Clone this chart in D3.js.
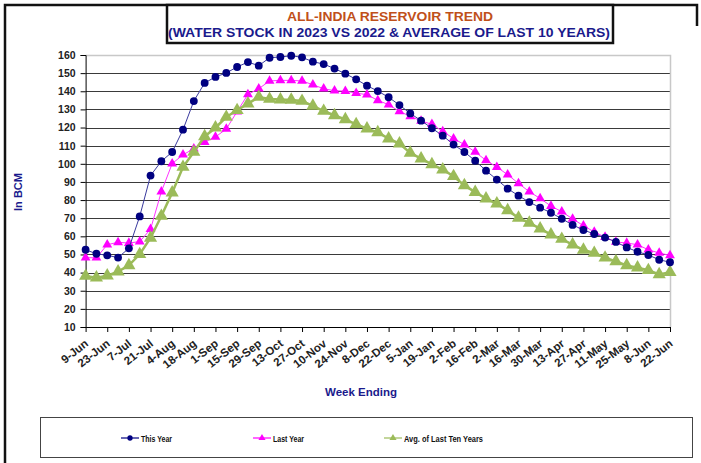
<!DOCTYPE html>
<html>
<head>
<meta charset="utf-8">
<script src="https://cdn.jsdelivr.net/npm/d3@7"></script>
<style>
  body { margin: 0; background: #fff; }
  text { font-family: "Liberation Sans", Arial, sans-serif; font-weight: bold; }
</style>
</head>
<body>
<div id="chart"></div>
<script>
var weeks = ["9-Jun","16-Jun","23-Jun","30-Jun","7-Jul","14-Jul","21-Jul","28-Jul","4-Aug","11-Aug","18-Aug","25-Aug",
  "1-Sep","8-Sep","15-Sep","22-Sep","29-Sep","6-Oct","13-Oct","20-Oct","27-Oct","3-Nov","10-Nov","17-Nov","24-Nov",
  "1-Dec","8-Dec","15-Dec","22-Dec","29-Dec","5-Jan","12-Jan","19-Jan","26-Jan","2-Feb","9-Feb","16-Feb","23-Feb",
  "2-Mar","9-Mar","16-Mar","23-Mar","30-Mar","6-Apr","13-Apr","20-Apr","27-Apr","4-May","11-May","18-May","25-May",
  "1-Jun","8-Jun","15-Jun","22-Jun"];

var thisYear = [52.6,50.4,49.5,48.3,53.4,71,93.5,101.4,106.5,118.8,134.6,144.6,147.9,150.1,153.4,156.1,154.1,158.5,
  158.9,159.6,158.7,156.3,155,152.5,149.7,146.6,143.1,140.1,136.7,132.4,127.8,123.8,119.6,115.5,110.6,106.5,101.7,
  96.2,91.3,86.3,82.4,78.9,75.8,73,69.7,66.3,63.5,61.3,59.3,56.9,53.9,51.5,49.7,47.1,45.7];

var lastYear = [48.2,48.2,55.4,56.7,56.3,57.1,63.9,84.6,100.1,105,108.3,112,114.8,119.2,128.8,138.3,141.4,145.7,
  146,146,145.7,143.6,141.4,140.3,140.1,139,138.1,135,132.6,128.9,126.2,123.6,121.8,117.9,113.9,110.6,106.5,
  101.9,98.2,94,89.2,84.6,80.9,76.7,73.6,69.6,65.9,62.4,59.6,56.9,56.3,55.4,52.6,50.8,49.5];

var avgTenYears = [38.1,37.2,38.3,40.5,44,50.1,59.1,71.2,84.1,98.2,106.5,115.1,119.9,125.8,129.5,133.2,136.8,135.7,
  135.4,135.2,134.6,131.9,129.1,126.7,124.5,121.8,119.4,117.3,113.9,111.1,106,102.8,99.7,96.8,93.1,88.1,84.4,
  80.8,78,74.3,70.2,67.4,64.2,60.9,58.5,55.4,52.5,50.8,48.2,46.2,44,42.7,41.3,39,40.2];

var yTicks = [10,20,30,40,50,60,70,80,90,100,110,120,130,140,150,160];
var seriesNames = ["This Year", "Last Year", "Avg. of Last  Ten Years"];

var width = 701, height = 463;
var svg = d3.select("#chart").append("svg").attr("width", width).attr("height", height);

// outer frame
svg.append("path").attr("d", "M697,26 V5 H5 V463").attr("fill", "none").attr("stroke", "#111").attr("stroke-width", 2.5);

// title box
svg.append("rect").attr("x", 167).attr("y", 5).attr("width", 446).attr("height", 38)
  .attr("fill", "#fff").attr("stroke", "#111").attr("stroke-width", 2.5);
svg.append("text").attr("x", 390).attr("y", 21).attr("text-anchor", "middle")
  .attr("font-size", 13).attr("fill", "#c0501a").attr("textLength", 206).attr("lengthAdjust", "spacingAndGlyphs")
  .text("ALL-INDIA RESERVOIR TREND");
svg.append("text").attr("x", 389).attr("y", 37).attr("text-anchor", "middle")
  .attr("font-size", 13).attr("fill", "#1a1a8c").attr("textLength", 442).attr("lengthAdjust", "spacingAndGlyphs")
  .text("(WATER STOCK IN 2023 VS 2022 & AVERAGE OF LAST 10 YEARS)");

var plotLeft = 85.6, plotRight = 670, plotTop = 55, plotBottom = 327;

var x = d3.scalePoint().domain(weeks).range([plotLeft, plotRight]);
var y = d3.scaleLinear().domain([10, 160]).range([plotBottom, plotTop]);

// gridlines
svg.append("g").selectAll("line").data(yTicks.filter(function(d) { return d > 10 && d < 160; })).enter()
  .append("line").attr("x1", plotLeft).attr("x2", plotRight)
  .attr("y1", function(d) { return Math.round(y(d)) + 0.5; }).attr("y2", function(d) { return Math.round(y(d)) + 0.5; })
  .attr("stroke", "#3a3a3a").attr("stroke-width", 1);

// plot border (light)
svg.append("path").attr("d", "M" + plotLeft + "," + (plotTop + 0.5) + " H" + (plotRight + 0.5) + " V" + plotBottom)
  .attr("fill", "none").attr("stroke", "#c8c8c8").attr("stroke-width", 1.5);

// y axis
var yaxis = d3.axisLeft(y).tickValues(yTicks).tickSize(5).tickPadding(5);
var gy = svg.append("g").attr("transform", "translate(" + plotLeft + ",0)").call(yaxis);
gy.select(".domain").attr("stroke", "#000");
gy.selectAll(".tick line").attr("stroke", "#000");
gy.selectAll("text").attr("font-size", 10.5).attr("fill", "#222").style("font-family", "Liberation Sans, Arial").style("font-weight", "bold");

// x axis, ticks every second week
var xaxis = d3.axisBottom(x).tickValues(weeks.filter(function(d, i) { return i % 2 === 0; })).tickSize(5).tickSizeOuter(0);
var gx = svg.append("g").attr("transform", "translate(0," + plotBottom + ")").call(xaxis);
gx.select(".domain").attr("stroke", "#000");
gx.selectAll(".tick line").attr("stroke", "#000");
gx.selectAll("text").attr("font-size", 11.5).attr("fill", "#222")
  .style("font-family", "Liberation Sans, Arial").style("font-weight", "bold")
  .attr("text-anchor", "end").attr("dy", null).attr("y", 0)
  .attr("transform", "translate(3,18) rotate(-38)");

// axis titles
svg.append("text").attr("transform", "translate(22,192) rotate(-90)").attr("text-anchor", "middle")
  .attr("font-size", 11).attr("fill", "#1a1a8c").text("In BCM");
svg.append("text").attr("x", 361).attr("y", 396).attr("text-anchor", "middle")
  .attr("font-size", 11.5).attr("fill", "#1a1a8c").text("Week Ending");

function drawSeries(values, color, lineColor, lineWidth, symbol, size) {
  var line = d3.line().x(function(d, i) { return x(weeks[i]); }).y(function(d) { return y(d); });
  var g = svg.append("g");
  g.append("path").datum(values).attr("d", line).attr("fill", "none").attr("stroke", lineColor).attr("stroke-width", lineWidth);
  g.selectAll("path.m").data(values).enter().append("path").attr("class", "m")
    .attr("d", d3.symbol().type(symbol).size(size))
    .attr("transform", function(d, i) { return "translate(" + x(weeks[i]) + "," + y(d) + ")"; })
    .attr("fill", color);
}

drawSeries(lastYear, "#ff00ff", "#ff33ff", 1, d3.symbolTriangle, 42);
drawSeries(avgTenYears, "#9bbb59", "#9bbb59", 2.5, d3.symbolTriangle, 75);
drawSeries(thisYear, "#000080", "#3a3a9e", 1, d3.symbolCircle, 48);

// legend
svg.append("rect").attr("x", 40.5).attr("y", 417.5).attr("width", 652).attr("height", 40)
  .attr("fill", "#fff").attr("stroke", "#444").attr("stroke-width", 1);
var legendColors = ["#000080", "#ff00ff", "#9bbb59"];
var legendSymbols = [d3.symbolCircle, d3.symbolTriangle, d3.symbolTriangle];
var legendX = [121, 253, 384];
var legendLen = [31, 31, 79];
seriesNames.forEach(function(name, i) {
  var lg = svg.append("g").attr("transform", "translate(" + legendX[i] + ",438)");
  lg.append("line").attr("x1", 0).attr("x2", 18).attr("stroke", legendColors[i]).attr("stroke-width", 1.2);
  lg.append("path").attr("d", d3.symbol().type(legendSymbols[i]).size(22)).attr("transform", "translate(9,0)").attr("fill", legendColors[i]);
  lg.append("text").attr("x", 20).attr("y", 3.5).attr("font-size", 9).attr("fill", "#111")
    .attr("textLength", legendLen[i]).attr("lengthAdjust", "spacingAndGlyphs").text(name);
});
</script>
</body>
</html>
